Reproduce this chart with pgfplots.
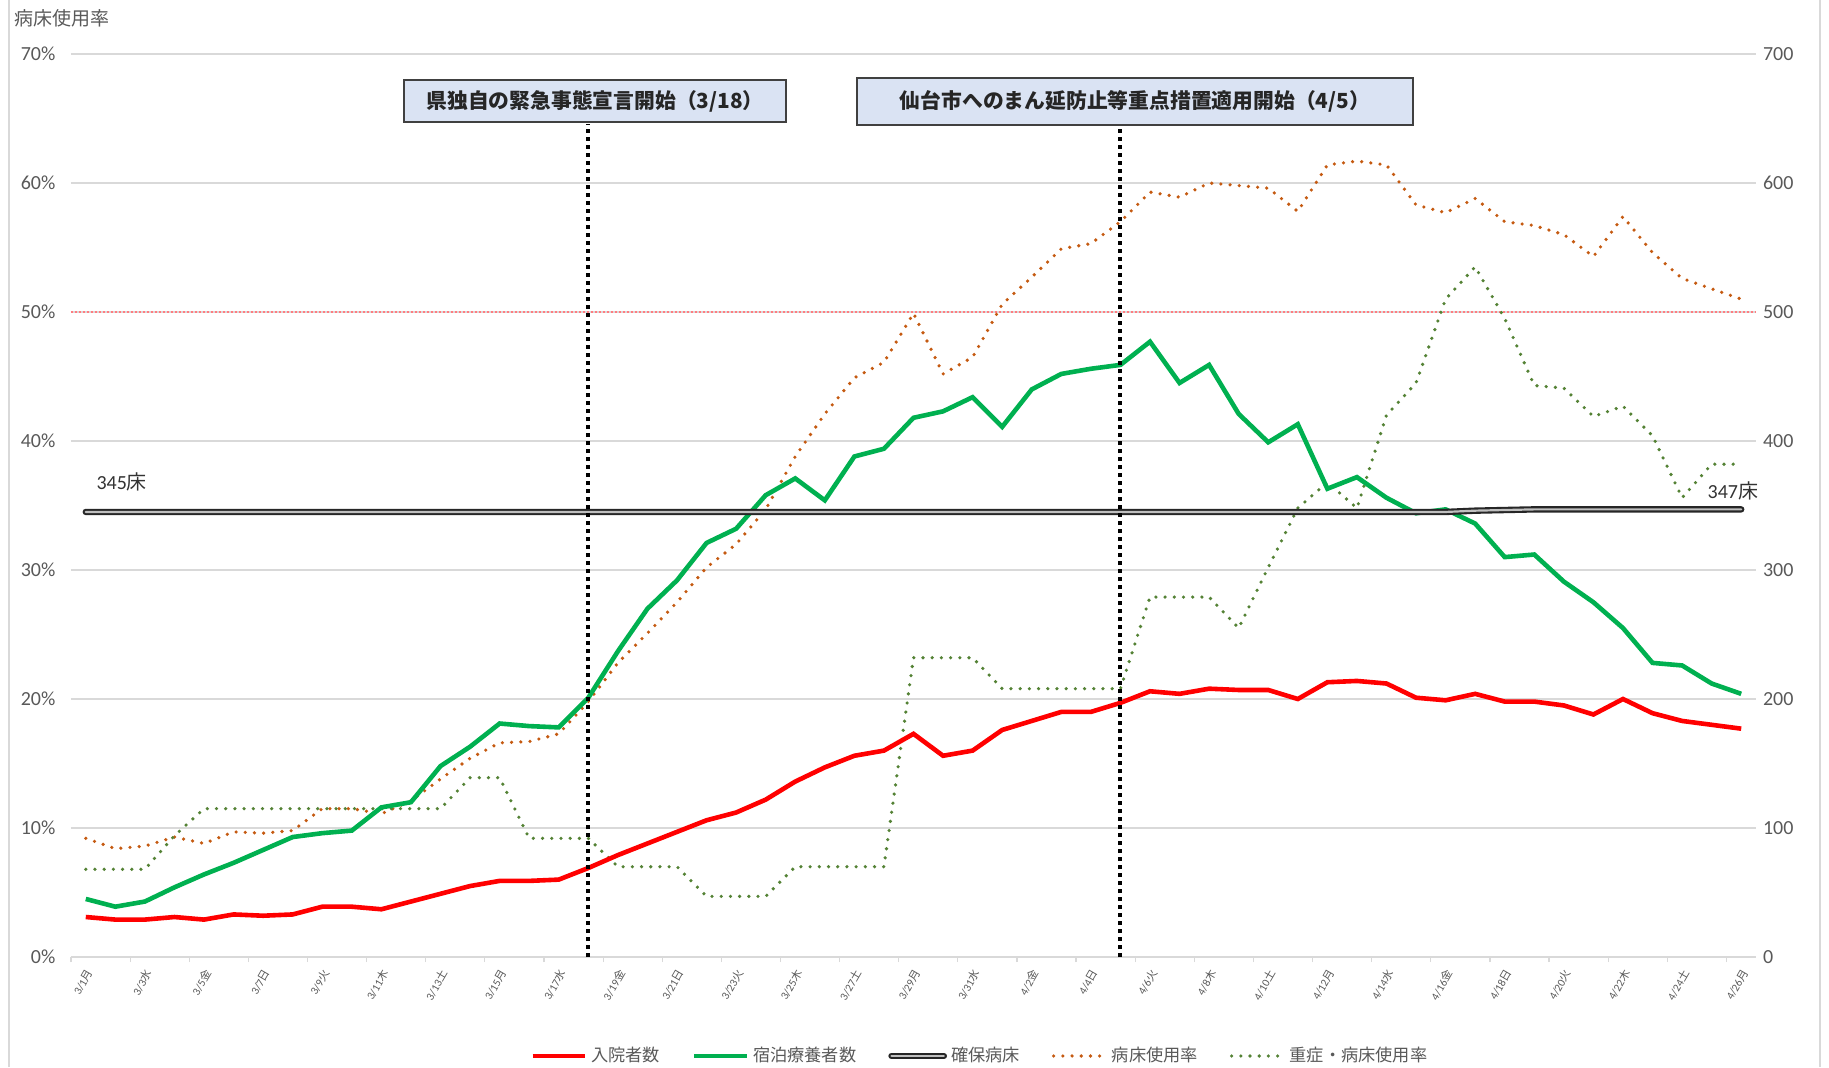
\documentclass[border=0pt]{standalone}
\usepackage{fontspec}
\setmainfont{Noto Sans CJK JP}
\newfontfamily\carlito{Carlito}
\usepackage{pgfplots}
\usepackage{pgfplotstable}
\pgfplotsset{compat=1.18}
\definecolor{cred}{HTML}{FF0000}
\definecolor{cgreen}{HTML}{00B050}
\definecolor{corange}{HTML}{C55A11}
\definecolor{cdgreen}{HTML}{548235}
\definecolor{cgrid}{HTML}{D9D9D9}
\definecolor{ctext}{HTML}{595959}
\definecolor{cbox}{HTML}{DAE3F3}
\definecolor{cpink}{HTML}{FF7C80}

\pgfplotstableread{
d red green bed orange sev
0 31 45 345 9.2 6.8
1 29 39 345 8.4 6.8
2 29 43 345 8.6 6.8
3 31 54 345 9.3 9.4
4 29 64 345 8.8 11.5
5 33 73 345 9.7 11.5
6 32 83 345 9.6 11.5
7 33 93 345 9.8 11.5
8 39 96 345 11.5 11.5
9 39 98 345 11.5 11.5
10 37 116 345 11.1 11.5
11 43 120 345 12.1 11.5
12 49 148 345 13.8 11.5
13 55 163 345 15.4 13.9
14 59 181 345 16.6 13.9
15 59 179 345 16.7 9.2
16 60 178 345 17.3 9.2
17 69 201 345 19.8 9.2
18 79 237 345 22.8 7.0
19 88 270 345 25.1 7.0
20 97 292 345 27.5 7.0
21 106 321 345 30.2 4.7
22 112 332 345 32.0 4.7
23 122 358 345 34.7 4.7
24 136 371 345 38.8 7.0
25 147 354 345 42.1 7.0
26 156 388 345 44.9 7.0
27 160 394 345 46.1 7.0
28 173 418 345 49.9 23.2
29 156 423 345 45.2 23.2
30 160 434 345 46.5 23.2
31 176 411 345 50.6 20.8
32 183 440 345 52.7 20.8
33 190 452 345 54.9 20.8
34 190 456 345 55.3 20.8
35 197 459 345 57.0 20.8
36 206 477 345 59.3 27.9
37 204 445 345 58.9 27.9
38 208 459 345 60.0 27.9
39 207 421 345 59.8 25.5
40 207 399 345 59.6 30.2
41 200 413 345 57.8 34.8
42 213 363 345 61.4 36.8
43 214 372 345 61.7 34.8
44 212 356 345 61.4 42.0
45 201 344 345 58.3 44.5
46 199 347 345 57.7 51.0
47 204 336 346 58.8 53.5
48 198 310 346.5 57.0 49.5
49 198 312 347 56.7 44.3
50 195 291 347 56.0 44.1
51 188 275 347 54.3 41.9
52 200 255 347 57.4 42.7
53 189 228 347 54.6 40.4
54 183 226 347 52.6 35.6
55 180 212 347 51.8 38.2
56 177 204 347 51.0 38.2
}\datatable

\pgfplotsset{
  common/.style={
    at={(35.5pt,55pt)}, anchor=south west,
    scale only axis, width=842.5pt, height=451.5pt,
    xmin=-0.5, xmax=56.5, clip=false,
    /pgf/number format/assume math mode=true,
  }
}
\newcommand{\dl}[2]{{\carlito #1}#2}

\begin{document}
\begin{tikzpicture}
\useasboundingbox (0,0) rectangle (914.5pt,533.5pt);
\draw[cgrid, line width=0.6pt] (4.5pt,0) -- (4.5pt,533.5pt);
\draw[cgrid, line width=0.6pt] (910pt,0) -- (910pt,533.5pt);
\node[anchor=west, text=ctext, font=\fontsize{9.5}{11}\selectfont, inner sep=0pt] at (7pt,524.5pt) {病床使用率};

\begin{axis}[common,
  ymin=0, ymax=70,
  axis x line*=bottom, axis y line*=left,
  x axis line style={cgrid, line width=0.6pt},
  y axis line style={draw=none},
  ytick={0,10,...,70},
  yticklabel={\pgfmathprintnumber{\tick}\%},
  yticklabel style={font=\carlito\fontsize{10}{12}\selectfont, text=ctext},
  ytick style={draw=none},
  ymajorgrids, grid style={cgrid, line width=0.6pt},
  xtick={0,2,...,56},
  xticklabels={\dl{3/1}{月},\dl{3/3}{水},\dl{3/5}{金},\dl{3/7}{日},\dl{3/9}{火},\dl{3/11}{木},\dl{3/13}{土},\dl{3/15}{月},\dl{3/17}{水},\dl{3/19}{金},\dl{3/21}{日},\dl{3/23}{火},\dl{3/25}{木},\dl{3/27}{土},\dl{3/29}{月},\dl{3/31}{水},\dl{4/2}{金},\dl{4/4}{日},\dl{4/6}{火},\dl{4/8}{木},\dl{4/10}{土},\dl{4/12}{月},\dl{4/14}{水},\dl{4/16}{金},\dl{4/18}{日},\dl{4/20}{火},\dl{4/22}{木},\dl{4/24}{土},\dl{4/26}{月}},
  xticklabel style={rotate=60, anchor=east, font=\fontsize{5.6}{6.5}\selectfont, text=ctext, yshift=-3pt, inner sep=1pt},
  major x tick style={draw=none},
  minor xtick={-0.5,1.5,...,55.5},
  minor x tick style={cgrid, line width=0.6pt},
  minor tick length=2.5pt, tick align=outside,
]
\addplot[cpink, line width=0.7pt, dash pattern=on 1pt off 1pt] coordinates {(-0.5,50) (56.5,50)};
\addplot[corange, line width=1.8pt, line cap=round, dash pattern=on 0pt off 4.6pt] table[x=d, y=orange] {\datatable};
\addplot[cdgreen, line width=1.8pt, line cap=round, dash pattern=on 0pt off 4.6pt] table[x=d, y=sev] {\datatable};
\end{axis}

\begin{axis}[common,
  ymin=0, ymax=700,
  axis x line=none, axis y line*=right,
  y axis line style={draw=none},
  ytick={0,100,...,700},
  yticklabel style={font=\carlito\fontsize{10}{12}\selectfont, text=ctext},
  ytick style={draw=none},
  legend columns=-1,
  legend style={at={(0.54,-0.1096)}, anchor=center, draw=none, fill=none,
    font=\fontsize{8.6}{10}\selectfont, text=ctext,
    /tikz/every even column/.append style={column sep=14pt}},
  legend image code/.code={\draw[#1] (0cm,0cm) -- (0.92cm,0cm);},
]
\addplot[cred, line width=2.3pt] table[x=d, y=red] {\datatable};
\addlegendentry{入院者数}
\addplot[cgreen, line width=2.3pt] table[x=d, y=green] {\datatable};
\addlegendentry{宿泊療養者数}
\addplot[black!85, line width=3.2pt, line cap=round,
  legend image code/.code={\draw[black!85,line width=3.2pt,line cap=round] (0cm,0cm)--(0.92cm,0cm); \draw[black!25,line width=1.1pt,line cap=round] (0cm,0cm)--(0.92cm,0cm);}] table[x=d, y=bed] {\datatable};
\addlegendentry{確保病床}
\addplot[black!25, line width=1.1pt, line cap=round, forget plot] table[x=d, y=bed] {\datatable};
\addlegendimage{corange, line width=1.8pt, line cap=round, dash pattern=on 0pt off 4.6pt}
\addlegendentry{病床使用率}
\addlegendimage{cdgreen, line width=1.8pt, line cap=round, dash pattern=on 0pt off 4.6pt}
\addlegendentry{重症・病床使用率}
\addplot[black, line width=2pt, dash pattern=on 2pt off 2pt, forget plot] coordinates {(17,0) (17,646)};
\addplot[black, line width=2pt, dash pattern=on 2pt off 2pt, forget plot] coordinates {(35,0) (35,646)};
\node[draw=black!75, line width=1pt, fill=cbox, minimum width=191pt, minimum height=21pt, inner sep=0pt, font=\bfseries\fontsize{10.4}{12}\selectfont, text=black!85] at (axis cs:17.23,663.6) {県独自の緊急事態宣言開始（3/18）};
\node[draw=black!75, line width=1pt, fill=cbox, minimum width=278pt, minimum height=23.5pt, inner sep=0pt, font=\bfseries\fontsize{10.4}{12}\selectfont, text=black!85] at (axis cs:35.49,663) {仙台市へのまん延防止等重点措置適用開始（4/5）};
\node[anchor=west, inner sep=0pt, text=black!80, font=\fontsize{10}{12}\selectfont] at (axis cs:0.35,368) {{\carlito 345}床};
\node[anchor=west, inner sep=0pt, text=black!80, font=\fontsize{10}{12}\selectfont] at (axis cs:54.85,361) {{\carlito 347}床};
\end{axis}
\end{tikzpicture}
\end{document}
